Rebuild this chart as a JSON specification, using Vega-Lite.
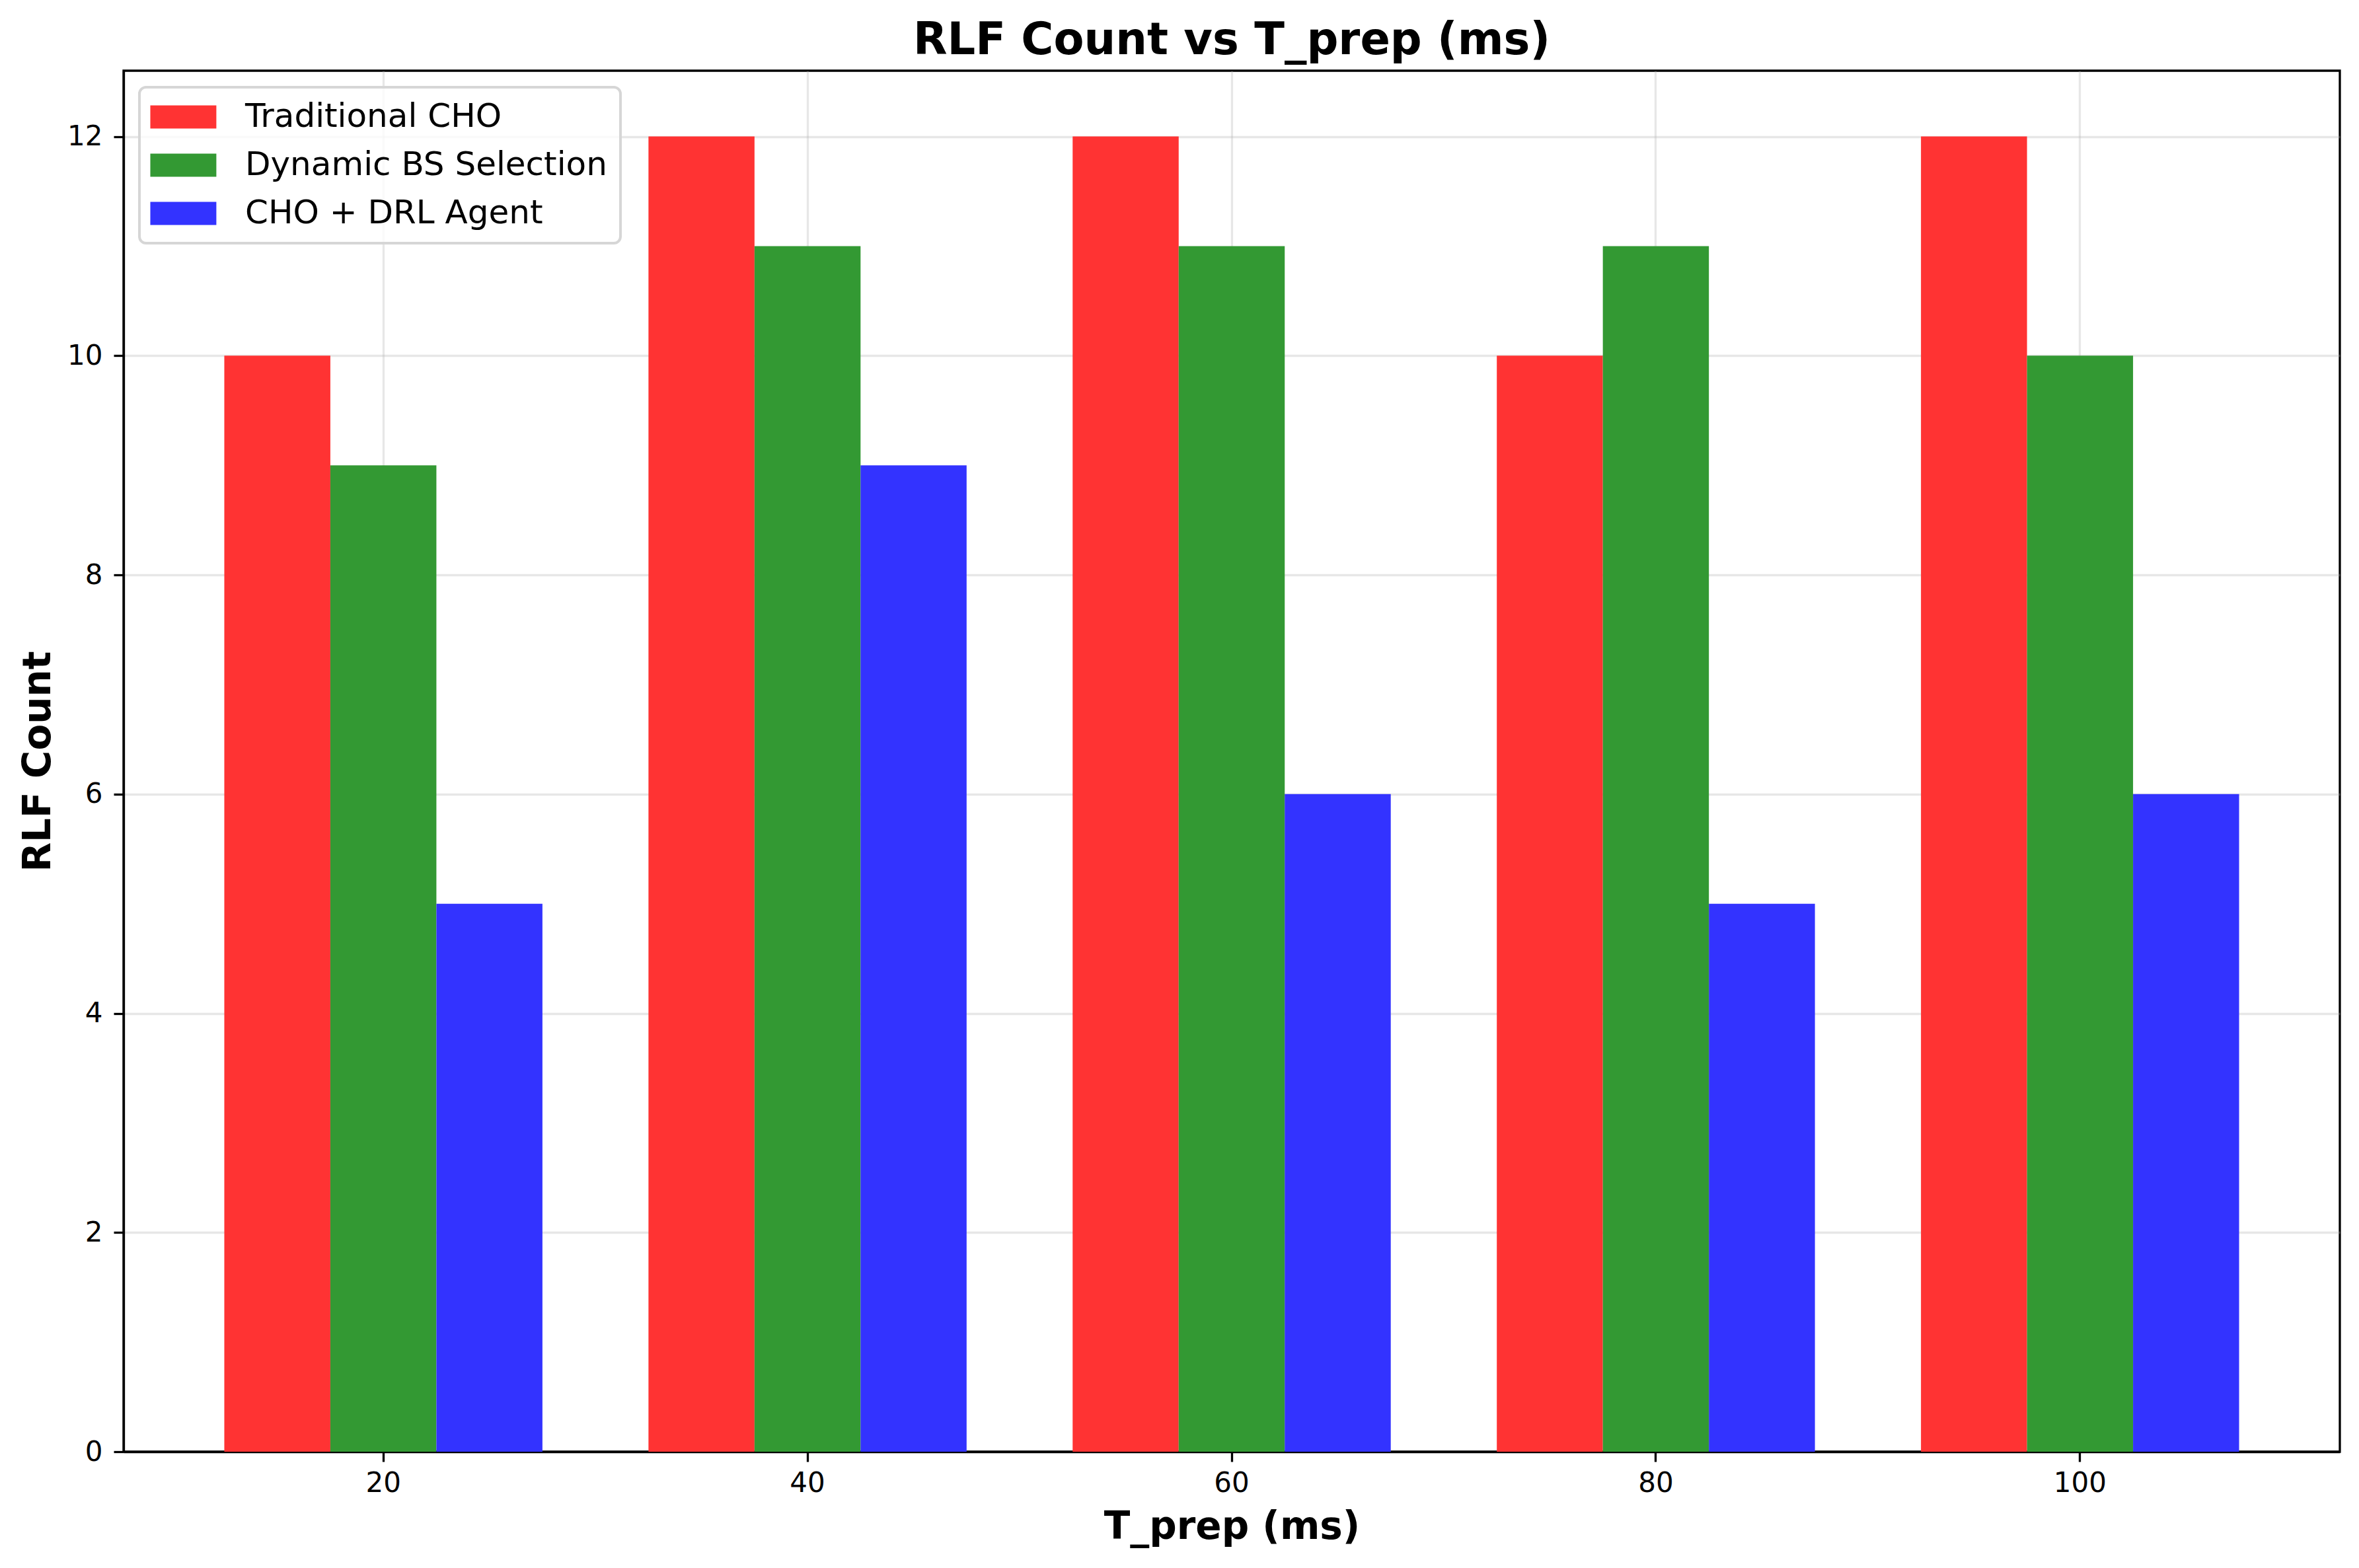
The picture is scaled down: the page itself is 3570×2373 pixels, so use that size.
{
  "$schema": "https://vega.github.io/schema/vega-lite/v6.json",
  "width": 3354,
  "height": 2090,
  "autosize": {"type": "none"},
  "padding": {"left": 187, "top": 107, "right": 29, "bottom": 176},
  "background": "white",
  "title": {
    "text": "RLF Count vs T_prep (ms)",
    "font": "DejaVu Sans",
    "fontSize": 67,
    "fontWeight": "bold",
    "color": "black",
    "anchor": "middle",
    "offset": 11
  },
  "data": {
    "values": [
      {"T_prep": 20, "method": "Traditional CHO", "rlf": 10},
      {"T_prep": 20, "method": "Dynamic BS Selection", "rlf": 9},
      {"T_prep": 20, "method": "CHO + DRL Agent", "rlf": 5},
      {"T_prep": 40, "method": "Traditional CHO", "rlf": 12},
      {"T_prep": 40, "method": "Dynamic BS Selection", "rlf": 11},
      {"T_prep": 40, "method": "CHO + DRL Agent", "rlf": 9},
      {"T_prep": 60, "method": "Traditional CHO", "rlf": 12},
      {"T_prep": 60, "method": "Dynamic BS Selection", "rlf": 11},
      {"T_prep": 60, "method": "CHO + DRL Agent", "rlf": 6},
      {"T_prep": 80, "method": "Traditional CHO", "rlf": 10},
      {"T_prep": 80, "method": "Dynamic BS Selection", "rlf": 11},
      {"T_prep": 80, "method": "CHO + DRL Agent", "rlf": 5},
      {"T_prep": 100, "method": "Traditional CHO", "rlf": 12},
      {"T_prep": 100, "method": "Dynamic BS Selection", "rlf": 10},
      {"T_prep": 100, "method": "CHO + DRL Agent", "rlf": 6}
    ]
  },
  "mark": {"type": "bar"},
  "encoding": {
    "x": {
      "field": "T_prep",
      "type": "ordinal",
      "scale": {"paddingInner": 0.25, "paddingOuter": 0.2375},
      "axis": {
        "title": "T_prep (ms)",
        "labelAngle": 0,
        "grid": true,
        "bandPosition": 0.5,
        "labelPadding": 12,
        "titlePadding": 17
      }
    },
    "xOffset": {
      "field": "method",
      "type": "nominal",
      "scale": {"domain": ["Traditional CHO", "Dynamic BS Selection", "CHO + DRL Agent"], "paddingInner": 0, "paddingOuter": 0}
    },
    "y": {
      "field": "rlf",
      "type": "quantitative",
      "scale": {"domain": [0, 12.6], "nice": false, "zero": true},
      "axis": {
        "title": "RLF Count",
        "values": [0, 2, 4, 6, 8, 10, 12],
        "labelPadding": 17,
        "titlePadding": 14
      }
    },
    "color": {
      "field": "method",
      "type": "nominal",
      "scale": {
        "domain": ["Traditional CHO", "Dynamic BS Selection", "CHO + DRL Agent"],
        "range": ["#ff3333", "#339933", "#3333ff"]
      },
      "legend": {
        "title": null,
        "orient": "none",
        "legendX": 24,
        "legendY": 25,
        "padding": 20,
        "symbolType": "M-1.63,-1H4.08V1H-1.63Z",
        "symbolSize": 1225,
        "symbolStrokeWidth": 0,
        "symbolOpacity": 1,
        "labelOffset": 90,
        "labelFontSize": 50,
        "labelFont": "DejaVu Sans",
        "labelColor": "black",
        "rowPadding": 23,
        "fillColor": "rgba(255,255,255,0.8)",
        "strokeColor": "#d6d6d6",
        "cornerRadius": 10,
        "labelLimit": 1000,
        "encode": {"legend": {"update": {"strokeWidth": {"value": 4}}}}
      }
    }
  },
  "config": {
    "view": {"stroke": "black", "strokeWidth": 3.3},
    "axis": {
      "zindex": 1,
      "labelFont": "DejaVu Sans",
      "labelFontSize": 42,
      "labelColor": "black",
      "titleFont": "DejaVu Sans",
      "titleFontSize": 58,
      "titleFontWeight": "bold",
      "titleColor": "black",
      "domainColor": "black",
      "domainWidth": 3.3,
      "tickColor": "black",
      "tickWidth": 3.3,
      "tickSize": 15,
      "gridColor": "#b0b0b0",
      "gridOpacity": 0.3,
      "gridWidth": 3.3
    }
  }
}
